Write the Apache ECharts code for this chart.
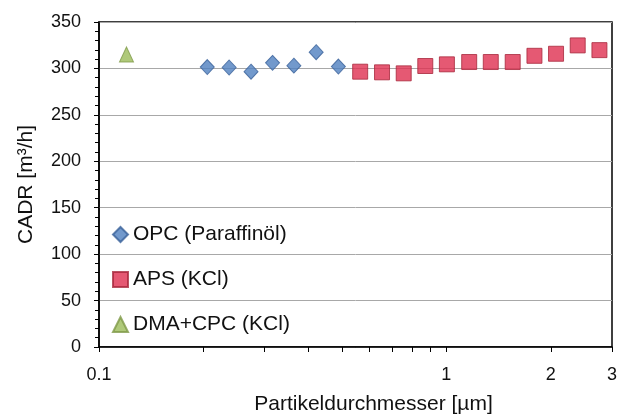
<!DOCTYPE html>
<html><head><meta charset="utf-8">
<script src="https://cdn.jsdelivr.net/npm/echarts@6/dist/echarts.min.js"></script>
<style>html,body{margin:0;padding:0;background:#fff}#c{width:617px;height:414px}</style>
</head><body><div id="c"></div>
<script>
const opcX = [0.205, 0.237, 0.274, 0.316, 0.364, 0.422, 0.489];
const opcY = [301.5, 301, 296.5, 306, 303, 317.5, 302];
const apsX = [0.565, 0.653, 0.754, 0.870, 1.004, 1.164, 1.343, 1.553, 1.794, 2.07, 2.39, 2.76];
const apsY = [296.5, 295.8, 294.7, 302.6, 304.4, 306.9, 306.9, 306.9, 313.6, 315.8, 324.8, 319.7];
const dmaX = [0.12];
const dmaY = [315];
const xTickValues = [0.1,0.2,0.3,0.4,0.5,0.6,0.7,0.8,0.9,1,2,3];
const xLabelValues = [0.1,1,2,3];
const seriesNames = ['OPC (Paraffinöl)', 'APS (KCl)', 'DMA+CPC (KCl)'];

const zip = (xs, ys) => xs.map((x, i) => [x, ys[i]]);
const FONT = 'Liberation Sans';
const chart = echarts.init(document.getElementById('c'), null, {renderer: 'canvas'});
chart.setOption({
  animation: false,
  grid: {left: 99, right: 5, top: 22, bottom: 67, show: true, borderColor: '#000', borderWidth: 1.5,
    outerBoundsMode: 'none', containLabel: false},
  legend: {
    orient: 'vertical', left: 107, top: 219, itemGap: 24, itemWidth: 15, itemHeight: 15,
    textStyle: {fontFamily: FONT, fontSize: 21, color: '#111'},
    data: seriesNames
  },
  xAxis: {
    type: 'log', logBase: 10, min: 0.1, max: 3,
    name: 'Partikeldurchmesser [µm]', nameLocation: 'middle', nameGap: 47,
    nameTextStyle: {fontFamily: FONT, fontSize: 21, color: '#111', padding: [0, 0, 0, 36]},
    axisLine: {lineStyle: {color: '#000', width: 1.5}},
    axisTick: {show: true, inside: false, length: 5, lineStyle: {color: '#000'}, customValues: xTickValues},
    axisLabel: {fontFamily: FONT, fontSize: 18, color: '#111', margin: 19, customValues: xLabelValues,
      formatter: v => String(v)},
    splitLine: {show: false},
    minorTick: {show: false}
  },
  yAxis: {
    type: 'value', min: 0, max: 350, interval: 50,
    name: 'CADR [m³/h]', nameLocation: 'middle', nameGap: 62,
    nameTextStyle: {fontFamily: FONT, fontSize: 21, color: '#111'},
    axisLine: {show: true, lineStyle: {color: '#000', width: 1.5}},
    axisTick: {show: true, inside: false, length: 5, lineStyle: {color: '#000'}},
    minorTick: {show: true, splitNumber: 5, length: 4, lineStyle: {color: '#000'}},
    axisLabel: {fontFamily: FONT, fontSize: 18, color: '#111', margin: 18},
    splitLine: {show: true, lineStyle: {color: '#a8a8a8', width: 1}}
  },
  series: [
    {name: seriesNames[0], type: 'scatter', symbol: 'diamond', symbolSize: [14, 15],
      itemStyle: {color: '#4f7fbf', borderColor: '#3a629a', borderWidth: 1}, data: zip(opcX, opcY)},
    {name: seriesNames[1], type: 'scatter', symbol: 'rect', symbolSize: [15, 15],
      itemStyle: {color: '#de3050', borderColor: '#a8283c', borderWidth: 1}, data: zip(apsX, apsY)},
    {name: seriesNames[2], type: 'scatter', symbol: 'triangle', symbolSize: [14, 15],
      itemStyle: {color: '#9bbb59', borderColor: '#7f9a48', borderWidth: 1}, data: zip(dmaX, dmaY)}
  ]
});
</script></body></html>
